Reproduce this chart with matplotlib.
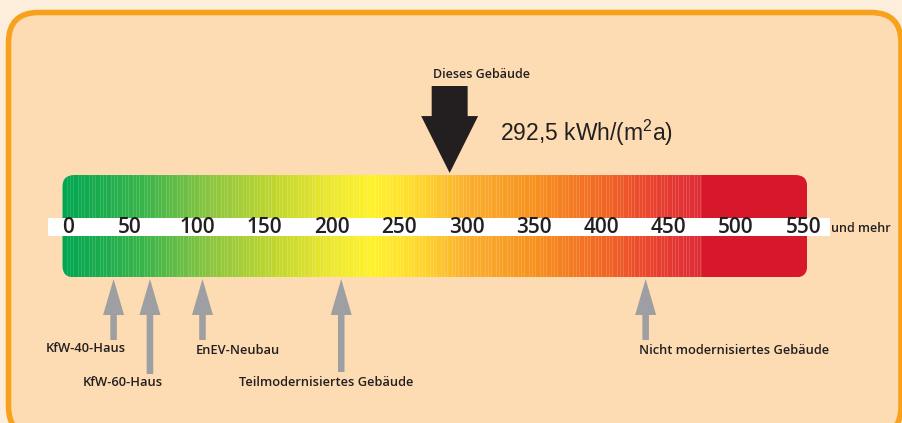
import numpy as np
import matplotlib
matplotlib.use('Agg')
from matplotlib import pyplot as plt
from matplotlib.patches import FancyBboxPatch, Rectangle
from matplotlib.colors import LinearSegmentedColormap

# scale values
ticks = [0, 50, 100, 150, 200, 250, 300, 350, 400, 450, 500, 550]
tick_labels = [str(t) for t in ticks]
bar_end = 553
red_from = 477

# colour stops of the scale (value, colour)
stop_values = [0, 60, 110, 160, 200, 230, 260, 300, 350, 400, 440, 476, 477, 553]
stop_colors = ['#00A651', '#3BB54A', '#8DC63F', '#C4D82E', '#EDE830', '#FFF22A',
               '#FFDC2E', '#FBB130', '#F7921E', '#F26A25', '#E9422F', '#DE2A37',
               '#D7182A', '#D7182A']

# this building
building_pos = 287.5
building_label = 'Dieses Gebäude'
building_value = r'292,5 kWh/(m$^2$a)'

# reference buildings
ref_values = [38, 65, 104, 207, 433]
ref_labels = ['KfW-40-Haus', 'KfW-60-Haus', 'EnEV-Neubau',
              'Teilmodernisiertes Gebäude', 'Nicht modernisiertes Gebäude']
ref_arrow_bottom = [340, 374, 340, 372, 340]
ref_label_y = [349, 383, 351, 383, 351]
ref_label_dx = [-28, -27, 35, -15, 88]

W, H = 903, 423
px0, px_per = 62.4, 1.347  # pixel of value 0, pixels per unit

plt.rcParams['font.family'] = ['Open Sans', 'DejaVu Sans']
plt.rcParams['mathtext.fontset'] = 'custom'
plt.rcParams['mathtext.rm'] = 'Liberation Sans'

fig = plt.figure(figsize=(W / 100, H / 100), dpi=100)
fig.patch.set_facecolor('#FDEEDC')

# background frame in pixel coordinates
bg = fig.add_axes([0, 0, 1, 1])
bg.set_xlim(0, W)
bg.set_ylim(H, 0)
bg.axis('off')
frame = FancyBboxPatch((8.5, 12.5), 892.5, 424, boxstyle='round,pad=0,rounding_size=30',
                       fc='#FDDCB3', ec='#F7A11D', lw=4)
bg.add_patch(frame)

# scale axes: x in kWh/(m2a), y in pixels
ax = fig.add_axes([0, 0, 1, 1])
ax.patch.set_alpha(0)
ax.set_xlim(-px0 / px_per, (W - px0) / px_per)
ax.set_ylim(H, 0)
ax.axis('off')

cmap = LinearSegmentedColormap.from_list(
    'scale', list(zip(np.array(stop_values) / bar_end, stop_colors)))
n_cols = 745
cols = cmap(np.linspace(0, 1, n_cols))
# fine light streaks of the printed scale (texture only)
col_vals = np.linspace(0, bar_end, n_cols)
streak = ((np.arange(n_cols) * 7) % 11 < 3) & (col_vals < red_from)
cols[streak, :3] = cols[streak, :3] * 0.85 + 0.15
img = ax.imshow(cols.reshape(1, n_cols, 4), aspect='auto', extent=(0, bar_end, 277.5, 175),
                interpolation='nearest', zorder=1)
clip = FancyBboxPatch((0, 175), bar_end, 102.5,
                      boxstyle='round,pad=0,rounding_size=%f' % (12 / px_per),
                      mutation_aspect=px_per, fc='none', ec='none',
                      transform=ax.transData)
ax.add_patch(clip)
img.set_clip_path(clip)

# white band with the numbers
ax.add_patch(Rectangle((-11, 218), 581, 18.5, fc='white', ec='none', zorder=2))
for t, lab in zip(ticks, tick_labels):
    ax.text(t, 227.5, lab, ha='left' if t == 0 else 'center', va='center', fontsize=15,
            fontweight='semibold', color='#231F20', zorder=3)
ax.annotate('und mehr', xy=(ticks[-1], 229), xytext=(28, 0), textcoords='offset pixels',
            ha='left', va='center', fontsize=9, fontweight='semibold', color='#231F20')

# arrow for this building
ax.annotate('', xy=(building_pos, 173), xytext=(building_pos, 86),
            arrowprops=dict(arrowstyle='simple,head_length=4.1,head_width=4.1,tail_width=2.59',
                            mutation_scale=10, fc='#231F20', ec='none',
                            shrinkA=0, shrinkB=0))
ax.annotate(building_label, xy=(building_pos, 75), xytext=(-17, 0),
            textcoords='offset pixels', ha='left', va='center', fontsize=9,
            fontweight='semibold', color='#231F20')
ax.annotate(building_value, xy=(building_pos, 133), xytext=(50, 0),
            textcoords='offset pixels', ha='left', va='center', fontsize=16.5,
            family='Liberation Sans', color='#231F20')

# reference arrows
for v, lab, yb, yl, dx in zip(ref_values, ref_labels, ref_arrow_bottom,
                              ref_label_y, ref_label_dx):
    ax.annotate('', xy=(v, 279), xytext=(v, yb),
                arrowprops=dict(arrowstyle='simple,head_length=2.59,head_width=1.51,tail_width=0.47',
                                mutation_scale=10, fc='#9D9FA2', ec='none',
                                shrinkA=0, shrinkB=0))
    ax.annotate(lab, xy=(v, yl), xytext=(dx, 0), textcoords='offset pixels',
                ha='center', va='center', fontsize=9.3, fontweight='semibold',
                color='#231F20')

fig.savefig('out.png', dpi=100, facecolor=fig.get_facecolor())
